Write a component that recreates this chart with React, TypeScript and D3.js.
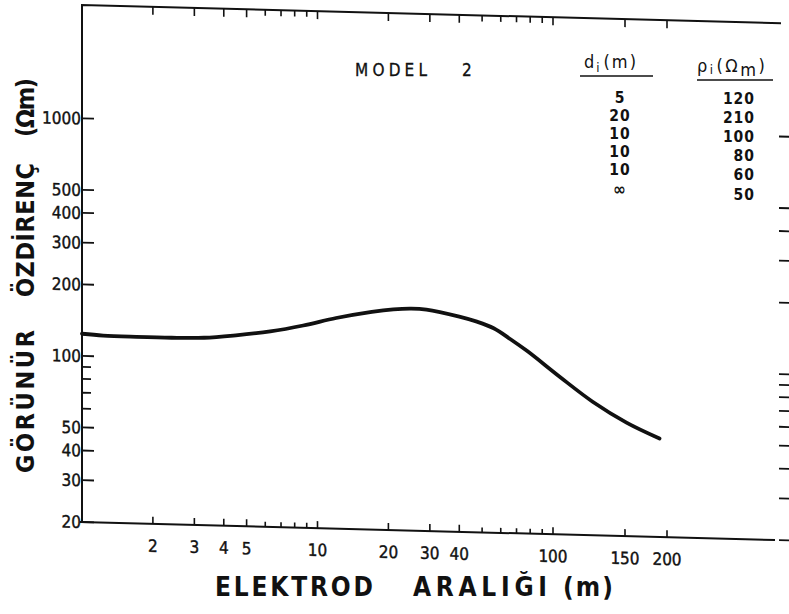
import * as d3 from 'd3';
import { useEffect, useRef } from 'react';

// apparent resistivity curve
const spacing = [1, 1.23, 1.7, 2.4, 3.3, 4.5, 6.3, 8.7, 12, 17, 21, 25, 29, 40, 47.5, 56, 66, 78, 104, 125, 152, 190];
const rhoA = [124, 122.5, 122, 122, 123, 127, 133, 142, 154, 165, 170, 172, 171, 161, 154, 145, 131, 117, 92, 73, 60, 52];

const xLabelled = [2, 3, 4, 5, 10, 20, 30, 40, 100, 150, 200];
const xMinor = [6, 7, 8, 9, 50, 60, 70, 80, 90];
const yLabelled = [20, 30, 40, 50, 100, 200, 300, 400, 500, 1000];
const yMinor = [60, 70, 80, 90];

// model layers
const layerThickness = ['5', '20', '10', '10', '10', '∞'];
const layerRho = ['120', '210', '100', '80', '60', '50'];

const narrow = "'Liberation Sans Narrow', 'DejaVu Sans Condensed', 'DejaVu Sans', sans-serif";
const cond = "'DejaVu Sans Condensed', 'DejaVu Sans', sans-serif";

export default function App() {
    const ref = useRef(null);

    useEffect(() => {
        const svg = d3.select(ref.current);
        svg.selectAll('*').remove();

        const left = 82;
        const logX = d3.scaleLinear()
            .domain([0, 2, Math.log10(150), Math.log10(200), Math.log10(500)])
            .range([left, 553, 625, 667, 775]);
        const x = (v) => logX(Math.log10(v));
        const y = d3.scaleLog().domain([20, 3000]).range([522, 5]);

        // the scanned sheet is slightly tilted
        const skew = Math.atan(0.026) * 180 / Math.PI;
        const g = svg.append('g')
            .attr('transform', `translate(${left},0) skewY(${skew}) translate(${-left},0)`);

        // frame
        g.append('path')
            .attr('d', `M${x(1) - 2},${y(20)}H775M${left},${y(20)}V${y(3000)}H781`)
            .attr('fill', 'none')
            .attr('stroke', '#111')
            .attr('stroke-width', 2);

        // left ticks + right ticks
        const yTicks = [...yLabelled.map(v => ({ v, len: 12 })), ...yMinor.map(v => ({ v, len: 9 }))];
        g.selectAll('.ytick').data(yTicks).enter().append('line')
            .attr('x1', left).attr('x2', d => left + d.len)
            .attr('y1', d => y(d.v)).attr('y2', d => y(d.v))
            .attr('stroke', '#111').attr('stroke-width', 1.8);
        g.selectAll('.rtick').data(yTicks).enter().append('line')
            .attr('x1', 779).attr('x2', 789)
            .attr('y1', d => y(d.v)).attr('y2', d => y(d.v))
            .attr('stroke', '#111').attr('stroke-width', 1.8);

        g.selectAll('.ylab').data(yLabelled).enter().append('text')
            .attr('x', left - 1).attr('y', d => y(d)).attr('dy', '0.36em')
            .attr('text-anchor', 'end')
            .attr('font-family', cond).attr('font-size', 17)
            .attr('fill', '#111').attr('stroke', '#111').attr('stroke-width', 0.4)
            .text(d => d);

        // bottom + top ticks
        const xTicks = [...xLabelled.map(v => ({ v, len: 7 })), ...xMinor.map(v => ({ v, len: 5 }))];
        g.selectAll('.xtick').data(xTicks).enter().append('line')
            .attr('x1', d => x(d.v)).attr('x2', d => x(d.v))
            .attr('y1', y(20)).attr('y2', d => y(20) - d.len)
            .attr('stroke', '#111').attr('stroke-width', 1.6);
        g.selectAll('.ttick').data(xTicks).enter().append('line')
            .attr('x1', d => x(d.v)).attr('x2', d => x(d.v))
            .attr('y1', y(3000)).attr('y2', d => y(3000) + d.len + 1)
            .attr('stroke', '#111').attr('stroke-width', 1.6);

        g.selectAll('.xlab').data(xLabelled).enter().append('text')
            .attr('x', d => x(d)).attr('y', 550)
            .attr('text-anchor', 'middle')
            .attr('font-family', cond).attr('font-size', 17)
            .attr('fill', '#111').attr('stroke', '#111').attr('stroke-width', 0.4)
            .text(d => d);

        // sounding curve
        const line = d3.line()
            .x((d, i) => x(spacing[i]))
            .y(d => y(d))
            .curve(d3.curveCatmullRom.alpha(0.5));
        g.append('path')
            .datum(rhoA)
            .attr('d', line)
            .attr('fill', 'none')
            .attr('stroke', '#111')
            .attr('stroke-width', 3.8)
            .attr('stroke-linecap', 'round');

        // axis titles
        const xt = svg.append('text')
            .attr('y', 596)
            .attr('font-family', narrow).attr('font-size', 26).attr('font-weight', 'bold')
            .attr('fill', '#111');
        [['ELEKTROD', 215, 158], ['ARALIĞI', 413, 134], ['(m)', 563, 50]].forEach(([t, px, w]) => {
            xt.append('tspan').attr('x', px).attr('textLength', w).attr('lengthAdjust', 'spacing').text(t);
        });

        const yt = svg.append('text')
            .attr('transform', 'translate(34,0) rotate(-90)')
            .attr('font-family', narrow).attr('font-size', 25).attr('font-weight', 'bold')
            .attr('fill', '#111');
        [['GÖRÜNÜR', 473, 143], ['ÖZDİRENÇ', 297, 134], ['(Ωm)', 137, 59]].forEach(([t, py, w]) => {
            yt.append('tspan').attr('x', -py).attr('textLength', w).attr('lengthAdjust', 'spacing').text(t);
        });

        // model annotation
        const model = svg.append('text')
            .attr('y', 76)
            .attr('font-family', cond).attr('font-size', 17)
            .attr('fill', '#111').attr('stroke', '#111').attr('stroke-width', 0.3);
        model.append('tspan').attr('x', 355).attr('textLength', 72).attr('lengthAdjust', 'spacing').text('MODEL');
        model.append('tspan').attr('x', 462).text('2');

        const dh = svg.append('text')
            .attr('x', 584).attr('y', 68)
            .attr('font-family', cond).attr('font-size', 18).attr('fill', '#111')
            .attr('letter-spacing', 2);
        dh.append('tspan').text('d');
        dh.append('tspan').attr('dy', 4).attr('font-size', 13).text('i');
        dh.append('tspan').attr('dy', -4).attr('dx', 2).text('(m)');
        svg.append('line').attr('x1', 580).attr('x2', 653).attr('y1', 76).attr('y2', 76)
            .attr('stroke', '#111').attr('stroke-width', 1.6);

        const rh = svg.append('text')
            .attr('x', 697).attr('y', 72)
            .attr('font-family', cond).attr('font-size', 18).attr('fill', '#111')
            .attr('letter-spacing', 2.5);
        rh.append('tspan').text('ρ');
        rh.append('tspan').attr('dy', 2).attr('font-size', 13).text('i');
        rh.append('tspan').attr('dy', -2).attr('dx', 1).text('(Ω');
        rh.append('tspan').attr('dy', 4).text('m');
        rh.append('tspan').attr('dy', -4).text(')');
        svg.append('line').attr('x1', 697).attr('x2', 773).attr('y1', 80).attr('y2', 80)
            .attr('stroke', '#111').attr('stroke-width', 1.6);

        svg.selectAll('.dval').data(layerThickness).enter().append('text')
            .attr('x', 620)
            .attr('y', (d, i) => 97 + i * 18.2 + (d === '∞' ? 2 : 0))
            .attr('dy', d => d === '∞' ? '0.3em' : '0.36em')
            .attr('text-anchor', 'middle')
            .attr('font-family', cond).attr('font-weight', 'bold')
            .attr('font-size', d => d === '∞' ? 17 : 15.5)
            .attr('letter-spacing', 1)
            .attr('fill', '#111')
            .text(d => d);
        svg.selectAll('.rval').data(layerRho).enter().append('text')
            .attr('x', 755).attr('y', (d, i) => 98 + i * 19.2).attr('dy', '0.36em')
            .attr('text-anchor', 'end')
            .attr('font-family', cond).attr('font-size', 15.5).attr('font-weight', 'bold')
            .attr('letter-spacing', 1)
            .attr('fill', '#111')
            .text(d => d);
    }, []);

    return (
        <svg
            ref={ref}
            width={789}
            height={614}
            style={{ position: 'absolute', left: 0, top: 0, background: '#fff' }}
        />
    );
}
